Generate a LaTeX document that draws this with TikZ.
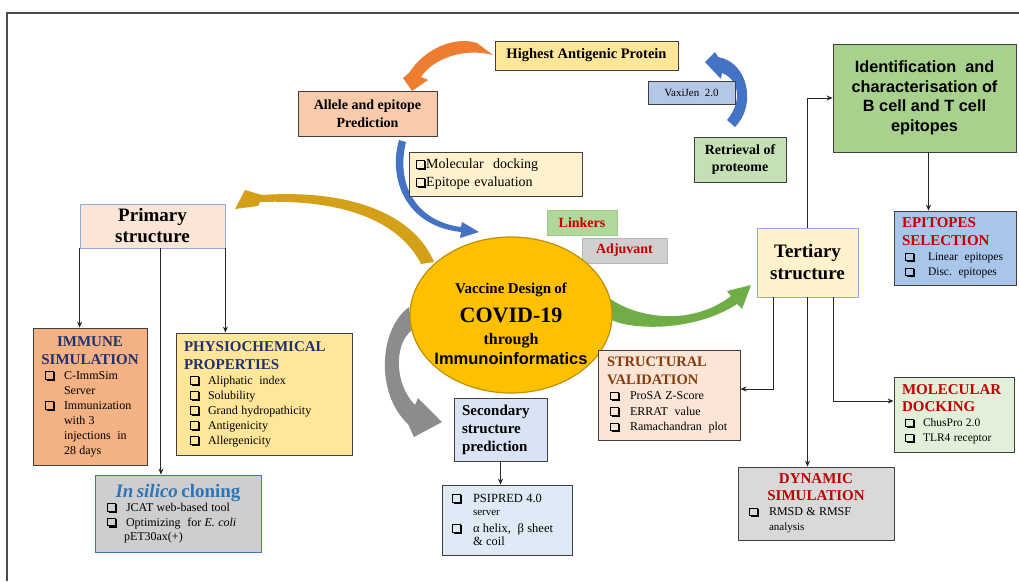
\documentclass[tikz,border=0pt]{standalone}
\usepackage{fontspec}
\setmainfont{Liberation Serif}
\newfontfamily\arialf{Liberation Sans}
\usepackage{graphicx}
\usetikzlibrary{shapes.geometric,arrows.meta,calc}
\newcommand\fs[2]{\fontsize{#1}{#2}\selectfont}
\newcommand\cbx{\raisebox{0.6pt}{\mbox{\rlap{\hspace{1.6pt}\rule[-2.3pt]{8.3pt}{1.3pt}}\rlap{\hspace{8.6pt}\rule[-2.3pt]{1.3pt}{8.8pt}}\setlength\fboxsep{0pt}\setlength\fboxrule{1pt}\fbox{\rule{0pt}{6.6pt}\rule{6.6pt}{0pt}}\hspace{1.6pt}}}}
\newcommand\cbi[2]{\hspace*{#1}\makebox[#2][l]{\cbx}}
\definecolor{hapF}{HTML}{FFE699}
\definecolor{alleleF}{HTML}{F8CBAD}
\definecolor{vaxF}{HTML}{B4C7E7}
\definecolor{retrF}{HTML}{C5E0B4}
\definecolor{yelF}{HTML}{FFF2CC}
\definecolor{identF}{HTML}{A9D18E}
\definecolor{primF}{HTML}{FBE5D6}
\definecolor{primB}{HTML}{8FAADC}
\definecolor{linkF}{HTML}{B0D89A}
\definecolor{linkB}{HTML}{9CCB84}
\definecolor{adjF}{HTML}{D0CECE}
\definecolor{adjB}{HTML}{B8B6B6}
\definecolor{circF}{HTML}{FFC000}
\definecolor{circB}{HTML}{BF9000}
\definecolor{episF}{HTML}{A8C6EA}
\definecolor{md2F}{HTML}{E2F0D9}
\definecolor{svF}{HTML}{FBE5D6}
\definecolor{dynF}{HTML}{D9D9D9}
\definecolor{secF}{HTML}{DAE3F3}
\definecolor{psiF}{HTML}{DEEBF7}
\definecolor{immF}{HTML}{F4B183}
\definecolor{physF}{HTML}{FFE699}
\definecolor{silF}{HTML}{CFCDCD}
\definecolor{silB}{HTML}{4472C4}
\definecolor{navyT}{HTML}{1F3170}
\definecolor{redT}{HTML}{C00000}
\definecolor{brownT}{HTML}{843C0C}
\definecolor{blueT}{HTML}{2E75B6}
\definecolor{orangeA}{HTML}{ED7D31}
\definecolor{blueA}{HTML}{4472C4}
\definecolor{goldA}{HTML}{D4A017}
\definecolor{greenA}{HTML}{70AD47}
\definecolor{grayA}{HTML}{8C8C8C}
\tikzset{
  bx/.style={draw=black!75, line width=0.8pt, inner sep=0pt, align=center},
  conn/.style={draw=black!85, line width=1pt, -{Stealth[length=6pt,width=5pt]}},
}
\begin{document}
\begin{tikzpicture}[x=1pt,y=-1pt]
\useasboundingbox (0,0) rectangle (1019,581);
% frame
\draw[line width=1.2pt, black!70] (7,581) -- (7,13) -- (1019,13);

% curved block arrows
\fill[orangeA] (477,43) .. controls (455,36) and (425,48) .. (409,73) -- (403,78) -- (412,91) -- (428,80) -- (421,77) .. controls (432,60) and (462,47) .. (493,55) -- cycle;
\fill[blueA] (705,62) -- (715,52) -- (718,57) .. controls (748,62) and (757,105) .. (735,127) -- (727,120) .. controls (742,102) and (740,80) .. (722,73) -- (721,79) -- cycle;
\fill[blueA] (399,140) .. controls (388,178) and (405,226) .. (461,232) -- (460,238) -- (479,232) -- (462,222) -- (461,227) .. controls (414,221) and (396,182) .. (406,142) -- cycle;
\fill[goldA] (434,262) .. controls (414,214) and (350,189) .. (262,195) -- (245,190) -- (235,209) -- (258,206) -- (260,202) .. controls (345,199) and (400,222) .. (421,264) -- cycle;
\fill[greenA] (603,293) .. controls (630,318) and (690,328) .. (731,296) -- (727,291) -- (751,285) -- (742,309) -- (737,304) .. controls (695,332) and (628,331) .. (608,318) -- cycle;
\fill[grayA] (409,307) .. controls (378,330) and (376,395) .. (408,424) -- (414,437) -- (442,422) -- (418,398) -- (415,405) .. controls (395,385) and (393,345) .. (412,330) -- cycle;

% top boxes
\node[bx, fill=hapF, minimum width=183pt, minimum height=29pt, font={\fs{14.5}{16}\bfseries}] (hap) at (586.5,55.5) {Highest Antigenic Protein};
\node[bx, fill=alleleF, minimum width=139pt, minimum height=45pt, font={\fs{14}{18}\bfseries}] (allele) at (367.5,113.5) {Allele and epitope\\Prediction};
\node[bx, fill=vaxF, minimum width=87pt, minimum height=23pt, font={\fs{11}{13}}] (vax) at (691.5,92.5) {VaxiJen\ \ 2.0};
\node[bx, fill=retrF, minimum width=92pt, minimum height=45pt, font={\fs{14}{17}\bfseries}] (retr) at (740,159.5) {Retrieval of\\proteome};
\node[bx, fill=yelF, minimum width=173pt, minimum height=44pt, text width=159pt, inner xsep=7pt, align=left, font={\fs{14}{18}}] (mdk) at (495.5,174) {\cbx Molecular\ \ docking\\\cbx Epitope evaluation};
\node[bx, fill=identF, minimum width=183pt, minimum height=108pt, font={\arialf\fs{16.3}{19.5}\bfseries}] (ident) at (924.5,98) {Identification\ \ and\\characterisation\ of\\B cell\ and\ T cell\\epitopes};

% primary structure
\node[bx, draw=primB, fill=primF, minimum width=145pt, minimum height=44pt, font={\fs{19}{21}\bfseries}] (prim) at (152.5,226) {Primary\\structure};

\node[bx, fill=immF, minimum width=114pt, minimum height=137pt, text width=104pt, inner xsep=5pt, align=left] (imm) at (90,396.5) {%
{\centering\fs{15}{18}\bfseries\color{navyT}IMMUNE\\SIMULATION\par}%
{\fs{12}{15}\cbi{7pt}{19pt}C-ImmSim\\\hspace*{26pt}Server\\\cbi{7pt}{19pt}Immunization\\\hspace*{26pt}with 3\\\hspace*{26pt}injections\ \ in\\\hspace*{26pt}28 days\par}};

\node[bx, fill=physF, minimum width=176pt, minimum height=122pt, text width=160pt, inner xsep=8pt, align=left] (phys) at (264,394) {%
{\fs{15}{18}\bfseries\color{navyT}PHYSIOCHEMICAL\\PROPERTIES\par}%
{\fs{12}{15}\cbi{6pt}{18pt}Aliphatic\ \ index\\\cbi{6pt}{18pt}Solubility\\\cbi{6pt}{18pt}Grand hydropathicity\\\cbi{6pt}{18pt}Antigenicity\\\cbi{6pt}{18pt}Allergenicity\par}};

\node[bx, draw=silB, fill=silF, minimum width=166pt, minimum height=77pt, text width=154pt, inner xsep=6pt, align=left] (sil) at (178,513.5) {%
{\centering\fs{19}{19}\bfseries\color{blueT}\textit{In silico} cloning\par}%
{\fs{12}{14.5}\cbi{6pt}{19pt}JCAT web-based tool\\\cbi{6pt}{19pt}Optimizing\ \ for \textit{E. coli}\\\hspace*{23pt}pET30ax(+)\par}};

% centre
\node[bx, draw=linkB, fill=linkF, minimum width=70pt, minimum height=25pt, font={\fs{14}{16}\bfseries}, text=redT] (link) at (582,222.5) {Linkers};
\node[bx, draw=adjB, fill=adjF, minimum width=85pt, minimum height=25pt, font={\fs{14}{16}\bfseries}, text=redT] (adj) at (624.5,250.5) {Adjuvant};
\node[ellipse, draw=circB, line width=1.2pt, fill=circF, minimum width=202pt, minimum height=156pt, inner sep=0pt] (vac) at (511,315) {};
\node[text width=200pt, align=center, inner sep=0pt] (vactxt) at (511,324) {%
{\fs{15}{15}\bfseries Vaccine Design of\par}%
{\fs{22}{29}\bfseries COVID-19\par}%
{\fs{16}{22}\bfseries through\par}%
{\arialf\fs{16.5}{20}\bfseries Immunoinformatics\par}};

\node[bx, fill=secF, minimum width=93pt, minimum height=63pt, text width=77pt, inner xsep=8pt, align=left, font={\fs{15}{18}\bfseries}] (sec) at (500.5,429.5) {Secondary\\structure\\prediction};
\node[bx, fill=psiF, minimum width=130pt, minimum height=70pt, text width=118pt, inner xsep=6pt, align=left] (psi) at (507,520) {%
{\fs{12.5}{13.5}\cbi{4pt}{21pt}PSIPRED 4.0\\\hspace*{25pt}{\fs{11}{13}server}\\[3pt]\cbi{4pt}{21pt}α helix,\ \ β sheet\\\hspace*{25pt}\& coil\par}};

\node[bx, fill=svF, minimum width=142pt, minimum height=90pt, text width=124pt, inner xsep=9pt, align=left] (sv) at (669,395) {%
{\fs{14.5}{18}\bfseries\color{brownT}STRUCTURAL\\VALIDATION\par}%
{\fs{12}{15.5}\cbi{3pt}{20pt}ProSA Z-Score\\\cbi{3pt}{20pt}ERRAT\ \ value\\\cbi{3pt}{20pt}Ramachandran\ \ plot\par}};

% right side
\node[bx, draw=primB, fill=yelF, minimum width=101pt, minimum height=69pt, font={\fs{19}{22}\bfseries}] (tert) at (807.5,262.5) {Tertiary\\structure};
\node[bx, fill=episF, minimum width=122pt, minimum height=74pt, text width=106pt, inner xsep=8pt, align=left] (epi) at (955,248) {%
{\fs{15}{18}\bfseries\color{redT}EPITOPES\\SELECTION\par}%
{\fs{11.5}{15}\cbi{3pt}{23pt}Linear\ \ epitopes\\\cbi{3pt}{23pt}Disc.\ \ epitopes\par}};
\node[bx, fill=md2F, minimum width=120pt, minimum height=75pt, text width=104pt, inner xsep=8pt, align=left] (md2) at (954,414.5) {%
{\fs{15}{17}\bfseries\color{redT}MOLECULAR\\DOCKING\par}%
{\fs{11.5}{15}\cbi{3pt}{18pt}ChusPro 2.0\\\cbi{3pt}{18pt}TLR4 receptor\par}};
\node[bx, fill=dynF, minimum width=156pt, minimum height=73pt, text width=140pt, inner xsep=8pt, align=left] (dyn) at (816,503.5) {%
{\centering\fs{15}{17}\bfseries\color{redT}DYNAMIC\\SIMULATION\par}%
{\fs{12}{15}\cbi{3pt}{20pt}RMSD \& RMSF\\\hspace*{23pt}{\fs{11}{13}analysis}\par}};

% connectors
\coordinate (pmid) at ($(prim.south west)!0.558!(prim.south east)$);
\draw[conn] (prim.south west) -- (prim.south west |- imm.north);
\draw[conn] (pmid) -- (pmid |- sil.north);
\draw[conn] (prim.south east) -- (prim.south east |- phys.north);
\draw[conn] (tert.north) |- (ident.west);
\draw[conn] ([xshift=4pt]ident.south) -- ([xshift=4pt]ident.south |- epi.north);
\coordinate (tl) at ($(tert.south west)!0.17!(tert.south east)$);
\coordinate (tr) at ($(tert.south west)!0.76!(tert.south east)$);
\draw[conn] (tl) |- ([yshift=6pt]sv.east);
\draw[conn] (tert.south) -- (tert.south |- dyn.north);
\draw[conn] (tr) |- ([yshift=13.5pt]md2.west);
\draw[conn] (sec.south) -- (sec.south |- psi.north);
\end{tikzpicture}
\end{document}
